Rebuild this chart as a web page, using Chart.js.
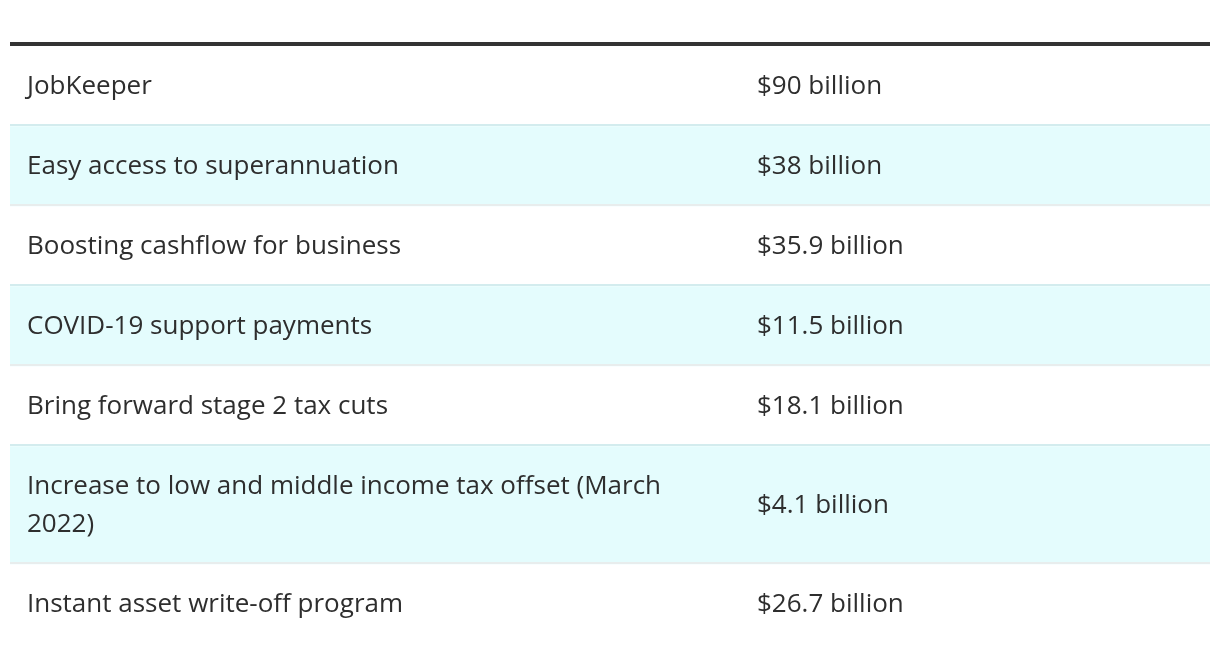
<!DOCTYPE html>
<html>
<head>
<meta charset="utf-8">
<script src="https://cdn.jsdelivr.net/npm/chart.js@4"></script>
<style>
  html, body { margin: 0; padding: 0; background: #fff; }
  #wrap { width: 1220px; height: 652px; position: relative; }
</style>
</head>
<body>
<div id="wrap"><canvas id="costTable"></canvas></div>
<script>
const items = [
    'JobKeeper',
    'Easy access to superannuation',
    'Boosting cashflow for business',
    'COVID-19 support payments',
    'Bring forward stage 2 tax cuts',
    'Increase to low and middle income tax offset (March 2022)',
    'Instant asset write-off program'
];
const costs = [90, 38, 35.9, 11.5, 18.1, 4.1, 26.7];
const costLabels = costs.map(v => '$' + v + ' billion');

// table look
const FONT = '26px "Open Sans"';
const TEXT_COLOR = '#2e2e2e';
const LINE_H = 38, ROW_PAD = 42, WRAP_W = 700;
const COL1_X = 17, COL2_X = 747;

function wrapText(ctx, text, maxW) {
    const words = text.split(' ');
    const lines = [];
    let cur = '';
    words.forEach(w => {
        const test = cur ? cur + ' ' + w : w;
        if (ctx.measureText(test).width > maxW && cur) {
            lines.push(cur);
            cur = w;
        } else {
            cur = test;
        }
    });
    if (cur) lines.push(cur);
    return lines;
}

const measureCtx = document.createElement('canvas').getContext('2d');
measureCtx.font = FONT;
const wrapped = items.map(t => wrapText(measureCtx, t, WRAP_W));
const rowHeights = wrapped.map(lines => ROW_PAD + lines.length * LINE_H);
const total = rowHeights.reduce((a, b) => a + b, 0);

// draws borders + cell text on top of the row bands
const tablePlugin = {
    id: 'tableText',
    afterDatasetsDraw(chart) {
        const ctx = chart.ctx;
        const area = chart.chartArea;
        ctx.save();
        // heavy rule above the table
        ctx.fillStyle = '#333333';
        ctx.fillRect(area.left, area.top - 4, area.right - area.left, 4);

        const n = chart.data.datasets.length;
        for (let i = 0; i < n; i++) {
            const el = chart.getDatasetMeta(i).data[0];
            const top = Math.min(el.y, el.base);
            const bottom = Math.max(el.y, el.base);
            const mid = (top + bottom) / 2 + 1;

            if (i < n - 1) {
                ctx.fillStyle = (i % 2 === 0) ? '#d3ecee' : '#e8eded';
                ctx.fillRect(area.left, Math.round(bottom) - 2, area.right - area.left, 2);
            }

            ctx.fillStyle = TEXT_COLOR;
            ctx.font = FONT;
            ctx.textBaseline = 'middle';
            ctx.textAlign = 'left';
            const lines = wrapped[i];
            lines.forEach((line, k) => {
                const y = mid + (k - (lines.length - 1) / 2) * LINE_H;
                ctx.fillText(line, area.left + COL1_X, y);
            });
            ctx.fillText(costLabels[i], area.left + COL2_X, mid);
        }
        ctx.restore();
    }
};

new Chart(document.getElementById('costTable'), {
    type: 'bar',
    data: {
        labels: ['cost'],
        datasets: items.map((name, i) => ({
            label: name,
            data: [rowHeights[i]],
            backgroundColor: i % 2 ? '#e4fcfd' : '#ffffff',
            borderWidth: 0,
            categoryPercentage: 1,
            barPercentage: 1
        }))
    },
    options: {
        responsive: true,
        maintainAspectRatio: false,
        animation: false,
        layout: {
            padding: { left: 10, right: 10, top: 46, bottom: 652 - 46 - total }
        },
        scales: {
            x: { display: false, stacked: true },
            y: { display: false, stacked: true, reverse: true, min: 0, max: total }
        },
        plugins: {
            legend: { display: false },
            tooltip: { enabled: false }
        }
    },
    plugins: [tablePlugin]
});
</script>
</body>
</html>
